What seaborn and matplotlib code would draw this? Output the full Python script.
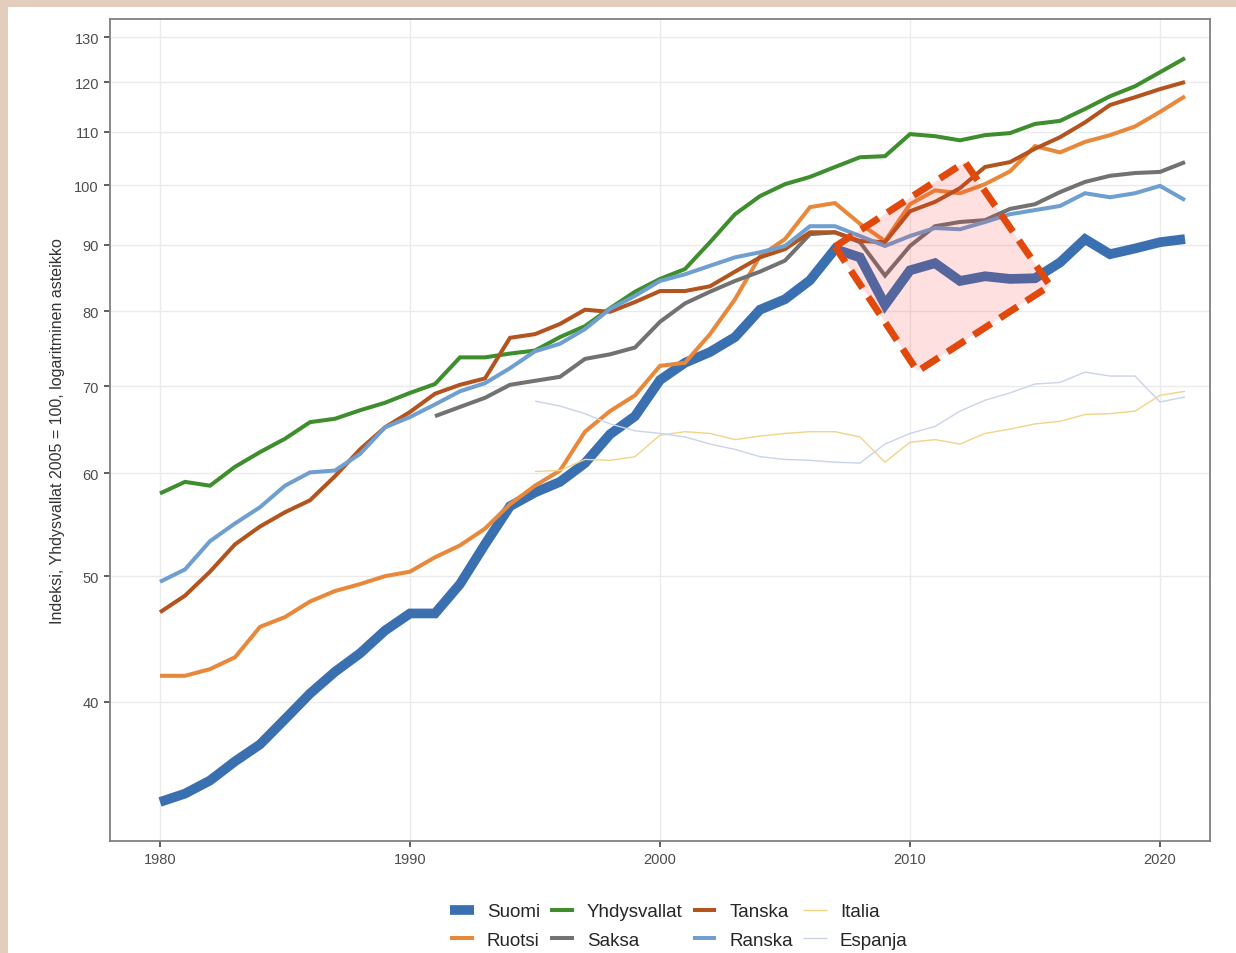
import numpy as np
import pandas as pd
import matplotlib
matplotlib.use('Agg')
import matplotlib.pyplot as plt
from matplotlib.patches import Polygon, Rectangle
import seaborn as sns

# --- data (index, USA 2005 = 100) ---
years_full = list(range(1980, 2022))
years_saksa = list(range(1991, 2022))
years_late = list(range(1995, 2022))

suomi = [33.5, 34.0, 34.8, 36.0, 37.1, 38.8, 40.6, 42.2, 43.6, 45.4,
         46.8, 46.8, 49.3, 52.9, 56.6, 58.0, 59.1, 61.1, 64.3, 66.4,
         70.8, 73.0, 74.4, 76.4, 80.2, 81.7, 84.5, 89.3, 88.0, 80.9,
         86.0, 87.1, 84.4, 85.1, 84.7, 84.8, 87.2, 90.9, 88.5, 89.4,
         90.4, 90.9]
yhdysvallat = [57.9, 59.1, 58.7, 60.7, 62.3, 63.8, 65.7, 66.1, 67.1, 68.0,
               69.2, 70.3, 73.7, 73.7, 74.2, 74.6, 76.4, 77.9, 80.4, 82.8,
               84.7, 86.2, 90.4, 95.0, 98.1, 100.2, 101.5, 103.3, 105.1, 105.3,
               109.5, 109.1, 108.3, 109.3, 109.7, 111.5, 112.1, 114.5, 117.1, 119.2,
               122.2, 125.3]
tanska = [46.9, 48.3, 50.4, 52.9, 54.6, 56.0, 57.2, 59.7, 62.6, 65.1,
          66.9, 69.1, 70.2, 71.0, 76.3, 76.8, 78.2, 80.2, 79.9, 81.3,
          82.9, 82.9, 83.6, 85.8, 88.0, 89.3, 92.0, 92.0, 90.6, 90.4,
          95.5, 97.1, 99.5, 103.3, 104.2, 106.7, 108.9, 111.8, 115.3, 116.9,
          118.6, 120.1]
ruotsi = [41.9, 41.9, 42.4, 43.3, 45.7, 46.5, 47.8, 48.7, 49.3, 50.0,
          50.4, 51.7, 52.8, 54.4, 56.8, 58.7, 60.3, 64.6, 67.0, 68.9,
          72.6, 73.0, 76.8, 81.7, 88.2, 90.9, 96.2, 96.9, 93.4, 90.6,
          96.7, 99.1, 98.6, 100.2, 102.5, 107.2, 106.0, 108.0, 109.3, 111.0,
          113.9, 117.1]
ranska = [49.5, 50.6, 53.2, 54.9, 56.5, 58.7, 60.1, 60.3, 62.1, 65.1,
          66.3, 67.8, 69.4, 70.4, 72.3, 74.5, 75.5, 77.5, 80.3, 82.2,
          84.4, 85.4, 86.7, 88.0, 88.8, 89.8, 93.0, 93.0, 91.4, 89.8,
          91.4, 92.7, 92.5, 93.7, 95.0, 95.7, 96.4, 98.6, 97.9, 98.6,
          99.9, 97.4]
saksa = [66.4, 67.5, 68.6, 70.2, 70.7, 71.2, 73.5, 74.1, 75.0,
         78.5, 81.1, 82.8, 84.4, 85.8, 87.5, 91.7, 92.0, 90.4, 85.2,
         89.8, 93.0, 93.7, 94.0, 95.9, 96.7, 98.8, 100.6, 101.7, 102.2,
         102.4, 104.2]
italia = [60.2, 60.3, 61.5, 61.4, 61.8,
          64.2, 64.6, 64.4, 63.7, 64.1, 64.4, 64.6, 64.6, 64.0, 61.2,
          63.4, 63.7, 63.2, 64.4, 64.9, 65.5, 65.8, 66.6, 66.7, 67.0,
          68.9, 69.4]
espanja = [68.2, 67.6, 66.7, 65.5, 64.7,
           64.4, 64.0, 63.2, 62.6, 61.8, 61.5, 61.4, 61.2, 61.1, 63.2,
           64.4, 65.2, 67.0, 68.3, 69.2, 70.3, 70.5, 71.8, 71.3, 71.3,
           68.1, 68.7]

# highlighted box (corners: left, top, right, bottom)
box_years = [2007.0, 2012.2, 2015.6, 2010.3]
box_values = [89.7, 104.2, 83.7, 71.9]

y_ticks = [40, 50, 60, 70, 80, 90, 100, 110, 120, 130]
x_ticks = [1980, 1990, 2000, 2010, 2020]

# name, years, values, colour, linewidth
series = [
    ('Suomi', years_full, suomi, '#3A6FB0', 7.0),
    ('Ruotsi', years_full, ruotsi, '#E8883A', 2.9),
    ('Yhdysvallat', years_full, yhdysvallat, '#3E8E2E', 2.9),
    ('Saksa', years_saksa, saksa, '#727272', 2.9),
    ('Tanska', years_full, tanska, '#B3541F', 2.9),
    ('Ranska', years_full, ranska, '#6F9FD0', 2.9),
    ('Italia', years_late, italia, '#F0D488', 1.0),
    ('Espanja', years_late, espanja, '#CBD3E8', 1.0),
]

sns.set_theme(style='whitegrid')
plt.rcParams['font.family'] = ['Liberation Sans', 'DejaVu Sans']

fig = plt.figure(figsize=(12.36, 9.54), dpi=100)
fig.patch.set_facecolor('#E3CDBD')
fig.patches.append(Rectangle((8 / 1236, 0), 1, 1 - 8 / 954,
                             transform=fig.transFigure, facecolor='white',
                             edgecolor='none', zorder=-10))

ax = fig.add_axes([110 / 1236, 1 - 842 / 954, 1100 / 1236, 822 / 954])
ax.set_facecolor('white')

for name, yrs, vals, col, lw in series:
    df = pd.DataFrame({'vuosi': yrs, 'indeksi': vals})
    sns.lineplot(data=df, x='vuosi', y='indeksi', color=col, linewidth=lw,
                 label=name, ax=ax, solid_joinstyle='miter', solid_capstyle='butt')

# shaded dashed box
box = Polygon(np.column_stack([box_years, box_values]), closed=True,
              facecolor='#FF2A2A', alpha=0.14, edgecolor='none', zorder=5)
ax.add_patch(box)
outline = Polygon(np.column_stack([box_years, box_values]), closed=True,
                  fill=False, edgecolor='#E0480C', linewidth=5,
                  linestyle=(0, (3, 1.5)), joinstyle='miter', zorder=6)
ax.add_patch(outline)

ax.set_yscale('log')
ax.set_xlim(1978, 2022)
ax.set_ylim(31.26, 134.3)
ax.set_yticks(y_ticks)
ax.set_yticklabels([str(t) for t in y_ticks])
ax.yaxis.set_minor_locator(matplotlib.ticker.NullLocator())
ax.set_xticks(x_ticks)
ax.set_xticklabels([str(t) for t in x_ticks])

ax.grid(True, color='#EBEBEB', linewidth=1.0)
for sp in ax.spines.values():
    sp.set_color('#808080')
    sp.set_linewidth(1.3)
ax.tick_params(axis='both', which='major', length=4, width=1.1, color='#333333',
               labelcolor='#4D4D4D', labelsize=10.5, pad=4, left=True, bottom=True)

ax.set_xlabel('')
ax.set_ylabel('Indeksi, Yhdysvallat 2005 = 100, logaritminen asteikko',
              fontsize=11.5, color='#333333', labelpad=7)

handles, labels = ax.get_legend_handles_labels()
ax.get_legend().remove()
fig.legend(handles, labels, ncol=4, loc='center',
           bbox_to_anchor=(679 / 1236, 1 - 927 / 954), frameon=False,
           fontsize=13.5, handlelength=1.25, handletextpad=0.7,
           columnspacing=0.55, labelspacing=0.62)

fig.savefig('out.png', dpi=100, facecolor=fig.get_facecolor())
